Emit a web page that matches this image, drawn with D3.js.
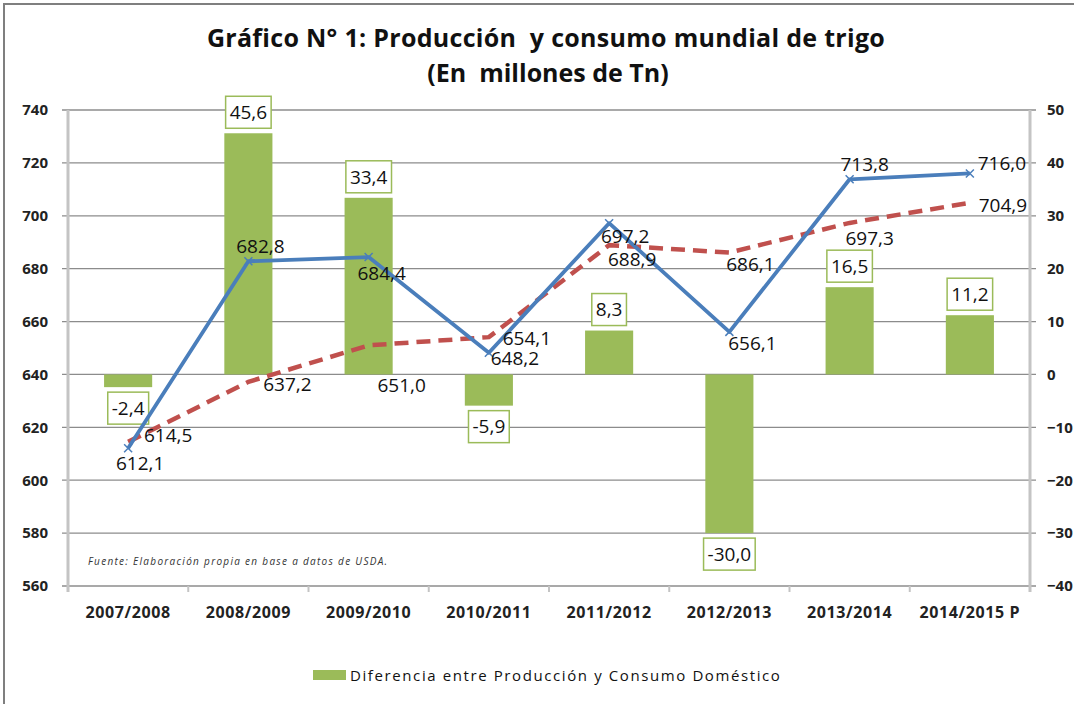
<!DOCTYPE html>
<html>
<head>
<meta charset="utf-8">
<script src="https://cdn.jsdelivr.net/npm/d3@7"></script>
<style>
  body { margin: 0; background: #fff; }
  svg text { font-family: "Open Sans", "Liberation Sans", sans-serif; fill: #111; white-space: pre; }
</style>
</head>
<body>
<div id="chart"></div>
<script>
//////////
// DATA //
//////////

var campaigns = ["2007/2008", "2008/2009", "2009/2010", "2010/2011", "2011/2012", "2012/2013", "2013/2014", "2014/2015 P"];
var produccion = [612.1, 682.8, 684.4, 648.2, 697.2, 656.1, 713.8, 716.0];
var consumo = [614.5, 637.2, 651.0, 654.1, 688.9, 686.1, 697.3, 704.9];
var diferencia = [-2.4, 45.6, 33.4, -5.9, 8.3, -30.0, 16.5, 11.2];
var leftTicks = [560, 580, 600, 620, 640, 660, 680, 700, 720, 740];
var rightTicks = [-40, -30, -20, -10, 0, 10, 20, 30, 40, 50];

// label nudges (px) for the line values, roughly where excel put them
var prodLabelPos = [[12, 15], [12, -15], [13, 16], [26, 5], [16, 13], [23, 11], [15, -15], [32, -10]];
var consLabelPos = [[40, -7], [39, 2], [33, 40], [38, 1], [23, 14], [21, 12], [20, 15], [33, 2]];

///////////////////
// SVG + SCALES  //
///////////////////

var svgWidth = 1074, svgHeight = 704;
var margin = { top: 110, right: 44, bottom: 118, left: 68 };
var width = svgWidth - margin.left - margin.right,
    height = svgHeight - margin.top - margin.bottom;

var svg = d3.select("#chart").append("svg")
  .attr("width", svgWidth)
  .attr("height", svgHeight);

// outer frame
svg.append("rect")
  .attr("x", 4).attr("y", 4)
  .attr("width", 1100).attr("height", 740)
  .attr("fill", "none")
  .attr("stroke", "#7f7f7f")
  .attr("stroke-width", 2);

svg.append("text")
  .attr("x", 546).attr("y", 47)
  .attr("text-anchor", "middle")
  .style("font-size", "25px").style("font-weight", "bold")
  .style("letter-spacing", "0.3px")
  .text("Gráfico N° 1: Producción  y consumo mundial de trigo");

svg.append("text")
  .attr("x", 548).attr("y", 82)
  .attr("text-anchor", "middle")
  .style("font-size", "25px").style("font-weight", "bold")
  .text("(En  millones de Tn)");

var g = svg.append("g")
  .attr("transform", "translate(" + margin.left + "," + margin.top + ")");

var x = d3.scaleBand()
  .domain(campaigns)
  .range([0, width])
  .paddingInner(0.6)
  .paddingOuter(0.3);

var xCat = d3.scaleBand().domain(campaigns).range([0, width]);

var yLeft = d3.scaleLinear().domain([560, 740]).range([height, 0]);
var yRight = d3.scaleLinear().domain([-40, 50]).range([height, 0]);

//////////
// GRID //
//////////

g.selectAll(".grid")
  .data(leftTicks)
  .enter().append("line")
  .attr("class", "grid")
  .attr("x1", -6).attr("x2", width + 6)
  .attr("y1", function (d) { return yLeft(d); })
  .attr("y2", function (d) { return yLeft(d); })
  .attr("stroke", "#8c8c8c")
  .attr("stroke-width", 1.3);

//////////
// AXES //
//////////

var yAxisLeft = d3.axisLeft(yLeft).tickValues(leftTicks).tickSize(0).tickPadding(20);
var yAxisRight = d3.axisRight(yRight).tickValues(rightTicks).tickSize(0).tickPadding(17);

var gl = g.append("g").attr("class", "y axis").call(yAxisLeft);
var gr = g.append("g").attr("class", "y2 axis").attr("transform", "translate(" + width + ",0)").call(yAxisRight);
[gl, gr].forEach(function (a) {
  a.select(".domain").remove();
  a.selectAll("text").style("font-size", "15px").style("font-weight", "bold").style("fill", "#222");
});

// vertical axis lines
g.append("line").attr("x1", 0).attr("x2", 0).attr("y1", 0).attr("y2", height + 6)
  .attr("stroke", "#c4c4c4").attr("stroke-width", 3);
g.append("line").attr("x1", width).attr("x2", width).attr("y1", 0).attr("y2", height + 6)
  .attr("stroke", "#c4c4c4").attr("stroke-width", 3);

// category axis
g.selectAll(".xtick")
  .data(campaigns.slice(1))
  .enter().append("line")
  .attr("class", "xtick")
  .attr("x1", function (d) { return xCat(d); })
  .attr("x2", function (d) { return xCat(d); })
  .attr("y1", height).attr("y2", height + 6)
  .attr("stroke", "#c4c4c4").attr("stroke-width", 2);

g.selectAll(".xlabel")
  .data(campaigns)
  .enter().append("text")
  .attr("class", "xlabel")
  .attr("x", function (d) { return xCat(d) + xCat.bandwidth() / 2; })
  .attr("y", height + 32)
  .attr("text-anchor", "middle")
  .style("font-size", "16px").style("font-weight", "bold").style("fill", "#222")
  .style("letter-spacing", "0.6px")
  .text(function (d) { return d; });

//////////
// BARS //
//////////

var barData = campaigns.map(function (c, i) { return { name: c, value: diferencia[i] }; });

g.selectAll(".bar")
  .data(barData)
  .enter().append("rect")
  .attr("class", "bar")
  .attr("x", function (d) { return x(d.name); })
  .attr("width", x.bandwidth())
  .attr("y", function (d) { return yRight(Math.max(0, d.value)); })
  .attr("height", function (d) { return Math.abs(yRight(d.value) - yRight(0)); })
  .attr("fill", "#9bbb59");

var fmt = function (v) { return v.toFixed(1).replace(".", ","); };

// boxed labels on the bars
var barLab = g.selectAll(".barlab")
  .data(barData)
  .enter().append("g")
  .attr("class", "barlab")
  .attr("transform", function (d) {
    var cx = x(d.name) + x.bandwidth() / 2;
    var cy = d.value >= 0 ? yRight(d.value) - 21 : yRight(d.value) + 21;
    return "translate(" + cx + "," + cy + ")";
  });

barLab.append("text")
  .attr("text-anchor", "middle")
  .attr("dy", "0.36em")
  .style("font-size", "19px")
  .text(function (d) { return fmt(d.value); })
  .each(function () {
    var bb = this.getBBox();
    d3.select(this.parentNode).insert("rect", "text")
      .attr("x", bb.x - 4).attr("y", -16)
      .attr("width", bb.width + 8).attr("height", 32)
      .attr("fill", "#fff")
      .attr("stroke", "#9bbb59").attr("stroke-width", 1.5);
  });

///////////
// LINES //
///////////

var cx = function (i) { return xCat(campaigns[i]) + xCat.bandwidth() / 2; };

var line = d3.line()
  .x(function (d, i) { return cx(i); })
  .y(function (d) { return yLeft(d); });

g.append("path")
  .datum(consumo)
  .attr("d", line)
  .attr("fill", "none")
  .attr("stroke", "#c0504d")
  .attr("stroke-width", 4.5)
  .attr("stroke-dasharray", "14,8");

g.append("path")
  .datum(produccion)
  .attr("d", line)
  .attr("fill", "none")
  .attr("stroke", "#4a7ebb")
  .attr("stroke-width", 3.8)
  .attr("stroke-linejoin", "round");

// small x markers on production
g.selectAll(".mk")
  .data(produccion)
  .enter().append("path")
  .attr("class", "mk")
  .attr("d", function (d, i) {
    var px = cx(i), py = yLeft(d), s = 4;
    return "M" + (px - s) + "," + (py - s) + "L" + (px + s) + "," + (py + s) +
           "M" + (px - s) + "," + (py + s) + "L" + (px + s) + "," + (py - s);
  })
  .attr("stroke", "#4a7ebb")
  .attr("stroke-width", 1.5);

// value labels
g.selectAll(".plab")
  .data(produccion)
  .enter().append("text")
  .attr("class", "plab")
  .attr("x", function (d, i) { return cx(i) + prodLabelPos[i][0]; })
  .attr("y", function (d, i) { return yLeft(d) + prodLabelPos[i][1]; })
  .attr("text-anchor", "middle")
  .attr("dy", "0.36em")
  .style("font-size", "19px")
  .text(function (d) { return fmt(d); });

g.selectAll(".clab")
  .data(consumo)
  .enter().append("text")
  .attr("class", "clab")
  .attr("x", function (d, i) { return cx(i) + consLabelPos[i][0]; })
  .attr("y", function (d, i) { return yLeft(d) + consLabelPos[i][1]; })
  .attr("text-anchor", "middle")
  .attr("dy", "0.36em")
  .style("font-size", "19px")
  .text(function (d) { return fmt(d); });

// source note
g.append("text")
  .attr("x", 20).attr("y", height - 21)
  .style("font-size", "10px").style("font-style", "italic").style("fill", "#333")
  .style("letter-spacing", "1.3px")
  .text("Fuente: Elaboración propia en base a datos de USDA.");

////////////
// LEGEND //
////////////

svg.append("rect")
  .attr("x", 313).attr("y", 670)
  .attr("width", 33).attr("height", 10)
  .attr("fill", "#9bbb59");

svg.append("text")
  .attr("x", 350).attr("y", 681)
  .style("font-size", "15px")
  .style("letter-spacing", "1.6px")
  .text("Diferencia entre Producción y Consumo Doméstico");
</script>
</body>
</html>
